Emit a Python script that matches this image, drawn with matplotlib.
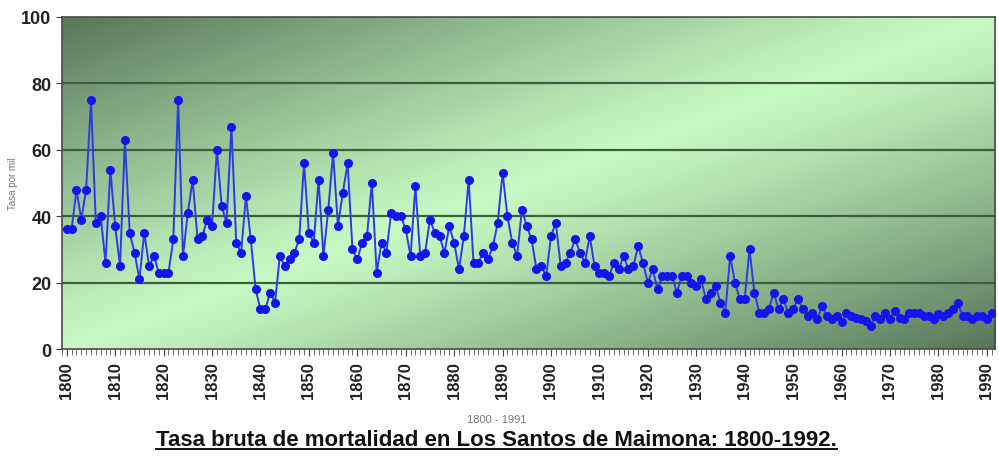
import numpy as np
import matplotlib
matplotlib.use("Agg")
import matplotlib.pyplot as plt
import matplotlib.ticker as ticker
from matplotlib.lines import Line2D

plt.rcParams['font.family'] = ['Liberation Sans', 'DejaVu Sans']

# años 1800-1991
anios = list(range(1800, 1992))
tasa = [
    36, 36, 48, 39, 48, 75, 38, 40, 26, 54,      # 1800
    37, 25, 63, 35, 29, 21, 35, 25, 28, 23,      # 1810
    23, 23, 33, 75, 28, 41, 51, 33, 34, 39,      # 1820
    37, 60, 43, 38, 67, 32, 29, 46, 33, 18,      # 1830
    12, 12, 17, 14, 28, 25, 27, 29, 33, 56,      # 1840
    35, 32, 51, 28, 42, 59, 37, 47, 56, 30,      # 1850
    27, 32, 34, 50, 23, 32, 29, 41, 40, 40,      # 1860
    36, 28, 49, 28, 29, 39, 35, 34, 29, 37,      # 1870
    32, 24, 34, 51, 26, 26, 29, 27, 31, 38,      # 1880
    53, 40, 32, 28, 42, 37, 33, 24, 25, 22,      # 1890
    34, 38, 25, 26, 29, 33, 29, 26, 34, 25,      # 1900
    23, 23, 22, 26, 24, 28, 24, 25, 31, 26,      # 1910
    20, 24, 18, 22, 22, 22, 17, 22, 22, 20,      # 1920
    19, 21, 15, 17, 19, 14, 11, 28, 20, 15,      # 1930
    15, 30, 17, 11, 11, 12, 17, 12, 15, 11,      # 1940
    12, 15, 12, 10, 11, 9, 13, 10, 9, 10,        # 1950
    8, 11, 10, 9.5, 9, 8.5, 7, 10, 9, 11,        # 1960
    9, 11.5, 9.5, 9, 11, 11, 11, 10, 10, 9,      # 1970
    10.5, 10, 11, 12, 14, 10, 10, 9, 10, 10,     # 1980
    9, 11,                                       # 1990
]
yticks = [0, 20, 40, 60, 80, 100]
xticks = list(range(1800, 1991, 10))

fig = plt.figure(figsize=(9.99, 4.6), dpi=100)
ax = fig.add_axes([0.062, 0.239, 0.934, 0.722])

# fondo degradado diagonal: oscuro en las esquinas sup-izq e inf-der
u, v = np.meshgrid(np.linspace(0, 1, 400), np.linspace(0, 1, 200))
d = (u + v) / 2
w = np.clip(np.abs(d - 0.5) * 2, 0, 1) ** 1.1
claro = np.array([200, 250, 196]) / 255
oscuro = np.array([88, 118, 88]) / 255
img = claro * (1 - w[..., None]) + oscuro * w[..., None]
ax.imshow(img, extent=[0, 1, 0, 1], transform=ax.transAxes, aspect='auto', zorder=0)

for g in [20, 40, 60, 80]:
    ax.axhline(g, color='#3f5e40', lw=1.6, zorder=1)

ax.plot(anios, tasa, color='#2b3ce0', lw=1.4, marker='o', markersize=5.5,
        markerfacecolor='#1414f0', markeredgecolor='#1414f0', zorder=3)

ax.set_xlim(1799, 1991.7)
ax.set_ylim(0, 100)
ax.set_yticks(yticks)
ax.set_xticks(xticks)
ax.xaxis.set_minor_locator(ticker.MultipleLocator(1))
ax.tick_params(axis='y', labelsize=13, length=4, colors='#444', labelcolor='#222')
ax.tick_params(axis='x', which='major', labelsize=12, length=5, rotation=90, colors='#444', labelcolor='#222')
ax.tick_params(axis='x', which='minor', length=4, colors='#555')
for lab in ax.get_xticklabels() + ax.get_yticklabels():
    lab.set_fontweight('bold')

for s in ax.spines.values():
    s.set_color('#4a4a4a')
    s.set_linewidth(1.2)

ax.set_ylabel('Tasa por mil', fontsize=7, color='#777', labelpad=2)
fig.text(0.497, 0.08, '1800 - 1991', fontsize=8, color='#777', ha='center')

titulo = fig.text(0.497, 0.03, 'Tasa bruta de mortalidad en Los Santos de Maimona: 1800-1992.',
                  fontsize=16, fontweight='bold', color='#111', ha='center', va='baseline')

# subrayado del título
fig.canvas.draw()
bb = titulo.get_window_extent().transformed(fig.transFigure.inverted())
fig.add_artist(Line2D([bb.x0, bb.x1], [0.022, 0.022],
                      transform=fig.transFigure, color='#111', lw=1.4))

fig.savefig('out.png', dpi=100)
